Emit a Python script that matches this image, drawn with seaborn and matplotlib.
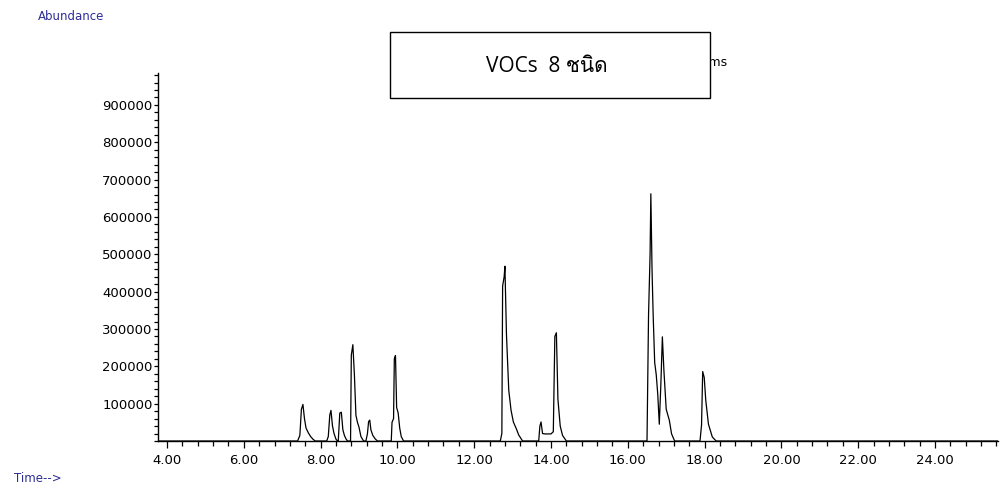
import matplotlib

matplotlib.use("Agg")
import matplotlib.pyplot as plt
import pandas as pd
import seaborn as sns
from matplotlib import font_manager
from matplotlib.ft2font import FT2Font
from matplotlib.patches import Rectangle
from matplotlib.ticker import FixedLocator, MultipleLocator

# retention time (min) and abundance
rt = [
    3.77, 7.40, 7.46, 7.50, 7.54, 7.58, 7.62, 7.68, 7.74, 7.80, 7.86,
    8.16, 8.20, 8.24, 8.27, 8.31, 8.35, 8.40, 8.44,
    8.46, 8.50, 8.54, 8.58, 8.62, 8.66, 8.70,
    8.78, 8.80, 8.84, 8.88, 8.92, 8.96, 9.00, 9.05, 9.12,
    9.18, 9.22, 9.25, 9.28, 9.31, 9.36, 9.42, 9.48,
    9.84, 9.86, 9.90, 9.92, 9.95, 9.98, 10.02, 10.06, 10.10, 10.16,
    12.68, 12.72, 12.74, 12.78, 12.80, 12.84, 12.90, 12.96, 13.02, 13.10, 13.16, 13.26,
    13.68, 13.71, 13.74, 13.78, 13.84, 13.92, 14.00, 14.06, 14.10, 14.14, 14.18, 14.24, 14.30, 14.40,
    16.50, 16.54, 16.58, 16.60, 16.63, 16.66, 16.70, 16.74, 16.78, 16.82, 16.86, 16.90,
    16.94, 17.00, 17.08, 17.14, 17.22,
    17.88, 17.92, 17.95, 17.99, 18.03, 18.10, 18.20, 18.30,
    25.64,
]
abundance = [
    0, 0, 15000, 85000, 98000, 60000, 35000, 22000, 12000, 5000, 0,
    0, 12000, 70000, 82000, 40000, 20000, 5000, 0,
    0, 75000, 77000, 30000, 15000, 6000, 0,
    0, 230000, 258000, 178000, 69000, 50000, 37000, 12000, 0,
    0, 20000, 52000, 56000, 30000, 15000, 6000, 0,
    0, 50000, 60000, 220000, 229000, 90000, 75000, 35000, 12000, 0,
    0, 20000, 415000, 440000, 468000, 285000, 136000, 82000, 51000, 32000, 16000, 0,
    0, 40000, 51000, 20000, 19000, 19000, 19000, 25000, 280000, 290000, 112000, 40000, 15000, 0,
    0, 338000, 500000, 662000, 463000, 338000, 210000, 178000, 125000, 45000, 150000, 279000,
    189000, 85000, 56000, 19000, 0,
    0, 43000, 186000, 170000, 109000, 45000, 11000, 0,
    0,
]

x_major = [4, 6, 8, 10, 12, 14, 16, 18, 20, 22, 24]
y_major = [100000, 200000, 300000, 400000, 500000, 600000, 700000, 800000, 900000]

box_text = "VOCs  8 ชนิด"
hidden_title = "TIC: VOC8.D\\data.ms"


def _thai_family():
    for entry in font_manager.fontManager.ttflist:
        try:
            if 0x0E0A in FT2Font(entry.fname).get_charmap():
                return entry.name
        except Exception:
            continue
    return "DejaVu Sans"


sns.set_style("white")
plt.rcParams["font.family"] = ["DejaVu Sans"]
plt.rcParams["text.color"] = "black"

df = pd.DataFrame({"rt": rt, "abundance": abundance})

fig = plt.figure(figsize=(10.01, 4.84), dpi=100)
ax = fig.add_axes([0.158, 0.0888, 0.839, 0.760])

sns.lineplot(data=df, x="rt", y="abundance", estimator=None, sort=False,
             color="black", lw=0.9, ax=ax)

ax.set_xlim(3.77, 25.64)
ax.set_ylim(0, 985000)

ax.xaxis.set_major_locator(FixedLocator(x_major))
ax.xaxis.set_minor_locator(MultipleLocator(0.4))
ax.set_xticklabels([f"{v:.2f}" for v in x_major])
ax.yaxis.set_major_locator(FixedLocator(y_major))
ax.yaxis.set_minor_locator(MultipleLocator(20000))
ax.set_yticklabels([str(v) for v in y_major])

ax.tick_params(axis="x", which="major", direction="out", length=5, width=0.9,
               pad=4, labelsize=9.5, color="black", labelcolor="black")
ax.tick_params(axis="x", which="minor", direction="out", length=3.5, width=0.9,
               color="black")
ax.tick_params(axis="y", which="both", direction="out", length=3, width=0.9,
               pad=1, labelsize=9.5, color="black", labelcolor="black")
ax.tick_params(bottom=True, left=True, which="both")

for side in ["top", "right"]:
    ax.spines[side].set_visible(False)
for side in ["left", "bottom"]:
    ax.spines[side].set_linewidth(1.0)
    ax.spines[side].set_color("black")

ax.set_xlabel("")
ax.set_ylabel("")

fig.text(0.038, 0.965, "Abundance", color="#2d2d96", fontsize=8.5, va="center")
fig.text(0.014, 0.012, "Time-->", color="#2d2d96", fontsize=8.5, va="center")

# instrument title, mostly covered by the annotation box
fig.text(0.726, 0.872, hidden_title, fontsize=9, ha="right", va="center",
         color="black", zorder=1)

fig.add_artist(Rectangle((0.3896, 0.7975), 0.3197, 0.1364, transform=fig.transFigure,
                         facecolor="white", edgecolor="black", lw=1.0, zorder=5))
fig.text(0.546, 0.8616, box_text, fontsize=15, ha="center", va="center", zorder=6,
         color="black", family=["Open Sans", _thai_family(), "DejaVu Sans"])

fig.savefig("out.png", dpi=100)
plt.close(fig)
